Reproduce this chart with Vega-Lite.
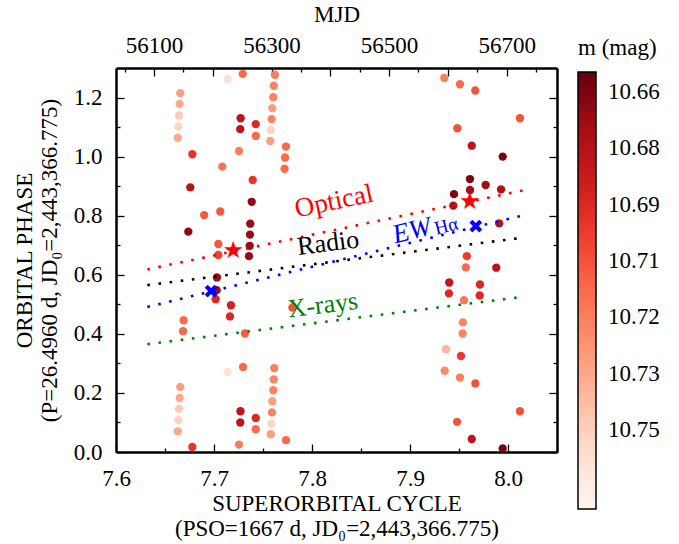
{
  "$schema": "https://vega.github.io/schema/vega-lite/v6.json",
  "width": 441,
  "height": 384,
  "autosize": {"type": "none"},
  "padding": {"left": 116, "top": 68, "right": 122, "bottom": 92},
  "background": "white",
  "config": {
    "font": "Liberation Serif",
    "view": {"stroke": null},
    "axis": {
      "labelFont": "Liberation Serif",
      "titleFont": "Liberation Serif",
      "labelFontSize": 23,
      "titleFontSize": 23,
      "titleFontWeight": "normal",
      "labelColor": "black",
      "titleColor": "black",
      "domainColor": "black",
      "domainWidth": 2.5,
      "tickColor": "black",
      "tickWidth": 1.3,
      "grid": false,
      "labelFlush": false,
      "labelOverlap": false
    }
  },
  "datasets": {
    "pts": [
      {"cycle": 7.6656, "phase": 1.215, "mag": 10.732},
      {"cycle": 7.665, "phase": 1.178, "mag": 10.735},
      {"cycle": 7.6643, "phase": 1.139, "mag": 10.748},
      {"cycle": 7.6636, "phase": 1.102, "mag": 10.752},
      {"cycle": 7.663, "phase": 1.064, "mag": 10.735},
      {"cycle": 7.6656, "phase": 0.22, "mag": 10.732},
      {"cycle": 7.665, "phase": 0.183, "mag": 10.735},
      {"cycle": 7.6643, "phase": 0.146, "mag": 10.748},
      {"cycle": 7.6636, "phase": 0.108, "mag": 10.752},
      {"cycle": 7.663, "phase": 0.07, "mag": 10.735},
      {"cycle": 7.669, "phase": 0.446, "mag": 10.713},
      {"cycle": 7.6684, "phase": 0.409, "mag": 10.713},
      {"cycle": 7.6779, "phase": 1.008, "mag": 10.695},
      {"cycle": 7.6779, "phase": 0.017, "mag": 10.695},
      {"cycle": 7.6758, "phase": 0.896, "mag": 10.675},
      {"cycle": 7.6738, "phase": 0.746, "mag": 10.665},
      {"cycle": 7.69, "phase": 0.802, "mag": 10.707},
      {"cycle": 7.7064, "phase": 0.814, "mag": 10.707},
      {"cycle": 7.7044, "phase": 0.704, "mag": 10.707},
      {"cycle": 7.7044, "phase": 0.667, "mag": 10.7},
      {"cycle": 7.703, "phase": 0.591, "mag": 10.668},
      {"cycle": 7.7027, "phase": 0.548, "mag": 10.668},
      {"cycle": 7.7017, "phase": 0.517, "mag": 10.69},
      {"cycle": 7.7085, "phase": 0.966, "mag": 10.715},
      {"cycle": 7.714, "phase": 1.263, "mag": 10.757},
      {"cycle": 7.714, "phase": 0.271, "mag": 10.757},
      {"cycle": 7.7173, "phase": 0.497, "mag": 10.687},
      {"cycle": 7.7163, "phase": 0.459, "mag": 10.69},
      {"cycle": 7.7255, "phase": 1.019, "mag": 10.72},
      {"cycle": 7.7255, "phase": 0.025, "mag": 10.72},
      {"cycle": 7.7272, "phase": 1.13, "mag": 10.678},
      {"cycle": 7.7268, "phase": 1.093, "mag": 10.678},
      {"cycle": 7.727, "phase": 0.138, "mag": 10.678},
      {"cycle": 7.7268, "phase": 0.1, "mag": 10.678},
      {"cycle": 7.7293, "phase": 1.28, "mag": 10.713},
      {"cycle": 7.7296, "phase": 0.288, "mag": 10.713},
      {"cycle": 7.7316, "phase": 0.401, "mag": 10.708},
      {"cycle": 7.7426, "phase": 1.11, "mag": 10.69},
      {"cycle": 7.7426, "phase": 1.07, "mag": 10.713},
      {"cycle": 7.7426, "phase": 0.115, "mag": 10.69},
      {"cycle": 7.7426, "phase": 0.077, "mag": 10.713},
      {"cycle": 7.7395, "phase": 0.921, "mag": 10.695},
      {"cycle": 7.7385, "phase": 0.847, "mag": 10.665},
      {"cycle": 7.737, "phase": 0.773, "mag": 10.667},
      {"cycle": 7.7367, "phase": 0.736, "mag": 10.667},
      {"cycle": 7.7364, "phase": 0.698, "mag": 10.667},
      {"cycle": 7.7357, "phase": 0.663, "mag": 10.667},
      {"cycle": 7.7622, "phase": 1.277, "mag": 10.72},
      {"cycle": 7.761, "phase": 1.24, "mag": 10.722},
      {"cycle": 7.7605, "phase": 1.201, "mag": 10.722},
      {"cycle": 7.7595, "phase": 1.164, "mag": 10.732},
      {"cycle": 7.7588, "phase": 1.127, "mag": 10.722},
      {"cycle": 7.758, "phase": 1.09, "mag": 10.752},
      {"cycle": 7.7575, "phase": 1.053, "mag": 10.732},
      {"cycle": 7.7615, "phase": 0.284, "mag": 10.72},
      {"cycle": 7.761, "phase": 0.246, "mag": 10.722},
      {"cycle": 7.7605, "phase": 0.209, "mag": 10.722},
      {"cycle": 7.7595, "phase": 0.172, "mag": 10.732},
      {"cycle": 7.7592, "phase": 0.134, "mag": 10.722},
      {"cycle": 7.7585, "phase": 0.096, "mag": 10.752},
      {"cycle": 7.758, "phase": 0.06, "mag": 10.732},
      {"cycle": 7.7735, "phase": 1.034, "mag": 10.713},
      {"cycle": 7.7725, "phase": 0.997, "mag": 10.713},
      {"cycle": 7.772, "phase": 0.959, "mag": 10.713},
      {"cycle": 7.7735, "phase": 0.04, "mag": 10.713},
      {"cycle": 7.78, "phase": 0.489, "mag": 10.705},
      {"cycle": 7.935, "phase": 1.266, "mag": 10.72},
      {"cycle": 7.951, "phase": 1.245, "mag": 10.713},
      {"cycle": 7.9666, "phase": 1.224, "mag": 10.705},
      {"cycle": 8.0122, "phase": 1.13, "mag": 10.705},
      {"cycle": 7.9483, "phase": 1.096, "mag": 10.705},
      {"cycle": 7.963, "phase": 1.037, "mag": 10.678},
      {"cycle": 7.9946, "phase": 1.0, "mag": 10.66},
      {"cycle": 7.9612, "phase": 0.924, "mag": 10.66},
      {"cycle": 7.9612, "phase": 0.887, "mag": 10.668},
      {"cycle": 7.9449, "phase": 0.873, "mag": 10.66},
      {"cycle": 7.9442, "phase": 0.834, "mag": 10.672},
      {"cycle": 7.9772, "phase": 0.904, "mag": 10.668},
      {"cycle": 7.9929, "phase": 0.889, "mag": 10.672},
      {"cycle": 7.991, "phase": 0.774, "mag": 10.675},
      {"cycle": 7.958, "phase": 0.663, "mag": 10.698},
      {"cycle": 7.957, "phase": 0.625, "mag": 10.713},
      {"cycle": 7.988, "phase": 0.624, "mag": 10.678},
      {"cycle": 7.94, "phase": 0.574, "mag": 10.68},
      {"cycle": 7.9397, "phase": 0.537, "mag": 10.69},
      {"cycle": 7.9714, "phase": 0.567, "mag": 10.69},
      {"cycle": 7.9711, "phase": 0.53, "mag": 10.69},
      {"cycle": 7.9551, "phase": 0.514, "mag": 10.718},
      {"cycle": 7.954, "phase": 0.439, "mag": 10.722},
      {"cycle": 7.9537, "phase": 0.401, "mag": 10.722},
      {"cycle": 7.9367, "phase": 0.348, "mag": 10.74},
      {"cycle": 7.952, "phase": 0.325, "mag": 10.698},
      {"cycle": 7.9354, "phase": 0.275, "mag": 10.724},
      {"cycle": 7.951, "phase": 0.252, "mag": 10.72},
      {"cycle": 7.9667, "phase": 0.232, "mag": 10.705},
      {"cycle": 8.0122, "phase": 0.138, "mag": 10.705},
      {"cycle": 7.948, "phase": 0.102, "mag": 10.705},
      {"cycle": 7.963, "phase": 0.044, "mag": 10.678},
      {"cycle": 7.9946, "phase": 0.012, "mag": 10.66}
    ],
    "mdl": [
      {"model": "Optical", "cycle": 7.632, "phase": 0.618},
      {"model": "Optical", "cycle": 8.016, "phase": 0.886},
      {"model": "Radio", "cycle": 7.632, "phase": 0.565},
      {"model": "Radio", "cycle": 8.012, "phase": 0.724},
      {"model": "EW", "cycle": 7.632, "phase": 0.491},
      {"model": "EW", "cycle": 8.014, "phase": 0.8},
      {"model": "Xrays", "cycle": 7.632, "phase": 0.365},
      {"model": "Xrays", "cycle": 8.012, "phase": 0.524}
    ],
    "lbl": [
      {"label": "Optical", "cycle": 7.8225, "phase": 0.848},
      {"label": "Radio", "cycle": 7.8164, "phase": 0.707},
      {"label": "X-rays", "cycle": 7.811, "phase": 0.497},
      {"label": "EW", "cycle": 7.902, "phase": 0.748},
      {"label": "Hα", "cycle": 7.937, "phase": 0.765}
    ],
    "mrk": [
      {"kind": "star", "cycle": 7.7197, "phase": 0.68},
      {"kind": "star", "cycle": 7.961, "phase": 0.847},
      {"kind": "cross", "cycle": 7.697, "phase": 0.542},
      {"kind": "cross", "cycle": 7.967, "phase": 0.763}
    ],
    "ref": [
      {"cycle": 7.8, "phase": 0.65}
    ]
  },
  "layer": [
    {
      "data": {"name": "pts"},
      "mark": {"type": "circle", "size": 70, "opacity": 1},
      "encoding": {
        "x": {
          "field": "cycle",
          "type": "quantitative",
          "scale": {"domain": [7.6, 8.05], "nice": false, "zero": false},
          "axis": {
            "orient": "bottom",
            "values": [7.6, 7.65, 7.7, 7.75, 7.8, 7.85, 7.9, 7.95, 8.0, 8.05],
            "labelExpr": "abs(datum.value*10 - round(datum.value*10)) < 0.001 ? format(datum.value, '.1f') : ''",
            "tickSize": {"condition": {"test": "abs(datum.value*10 - round(datum.value*10)) < 0.001", "value": -8}, "value": -4},
            "labelPadding": 23,
            "title": ["SUPERORBITAL CYCLE", "(PSO=1667 d, JD₀=2,443,366.775)"],
            "titlePadding": -2
          }
        },
        "y": {
          "field": "phase",
          "type": "quantitative",
          "scale": {"domain": [0, 1.3], "nice": false, "zero": false},
          "axis": {
            "orient": "left",
            "values": [0, 0.1, 0.2, 0.3, 0.4, 0.5, 0.6, 0.7, 0.8, 0.9, 1.0, 1.1, 1.2],
            "labelExpr": "abs(datum.value*5 - round(datum.value*5)) < 0.001 ? format(datum.value, '.1f') : ''",
            "tickSize": {"condition": {"test": "abs(datum.value*5 - round(datum.value*5)) < 0.001", "value": -8}, "value": -4},
            "labelPadding": 22,
            "title": ["ORBITAL PHASE", "(P=26.4960 d, JD₀=2,443,366.775)"],
            "titlePadding": 12
          }
        },
        "color": {
          "field": "mag",
          "type": "quantitative",
          "scale": {
            "domain": [10.771, 10.7564625, 10.741925, 10.7273875, 10.71285, 10.6983125, 10.683775, 10.6692375, 10.6547],
            "range": ["#fff5f0", "#fee0d2", "#fcbba1", "#fc9272", "#fb6a4a", "#ef3b2c", "#cb181d", "#a50f15", "#67000d"],
            "nice": false,
            "zero": false
          },
          "legend": {
            "orient": "none",
            "legendX": 462,
            "legendY": -31,
            "direction": "vertical",
            "gradientLength": 437,
            "gradientThickness": 18,
            "gradientStrokeColor": "black",
            "gradientStrokeWidth": 1.5,
            "values": [10.66, 10.675, 10.69, 10.705, 10.72, 10.735, 10.75],
            "labelExpr": "datum.value < 10.67 ? '10.66' : datum.value < 10.68 ? '10.68' : datum.value < 10.695 ? '10.69' : datum.value < 10.71 ? '10.71' : datum.value < 10.725 ? '10.72' : datum.value < 10.74 ? '10.73' : '10.75'",
            "labelFontSize": 23,
            "labelFont": "Liberation Serif",
            "labelColor": "black",
            "labelOffset": 12,
            "labelOverlap": false,
            "title": "\u00a0\u00a0\u00a0m (mag)",
            "titleFontSize": 23,
            "titleFont": "Liberation Serif",
            "titleFontWeight": "normal",
            "titleColor": "black",
            "titlePadding": 12,
            "titleAnchor": "start",
            "padding": 0
          }
        }
      }
    },
    {
      "data": {"name": "mdl"},
      "transform": [{"filter": "datum.model == 'Optical'"}],
      "mark": {"type": "line", "color": "#ff0000", "strokeWidth": 2.6, "strokeDash": [2.6, 8.6]},
      "encoding": {
        "x": {"field": "cycle", "type": "quantitative", "axis": null},
        "y": {"field": "phase", "type": "quantitative", "axis": null}
      }
    },
    {
      "data": {"name": "mdl"},
      "transform": [{"filter": "datum.model == 'Radio'"}],
      "mark": {"type": "line", "color": "#000000", "strokeWidth": 2.6, "strokeDash": [2.6, 8.6]},
      "encoding": {
        "x": {"field": "cycle", "type": "quantitative", "axis": null},
        "y": {"field": "phase", "type": "quantitative", "axis": null}
      }
    },
    {
      "data": {"name": "mdl"},
      "transform": [{"filter": "datum.model == 'EW'"}],
      "mark": {"type": "line", "color": "#0000ff", "strokeWidth": 2.6, "strokeDash": [2.6, 8.6]},
      "encoding": {
        "x": {"field": "cycle", "type": "quantitative", "axis": null},
        "y": {"field": "phase", "type": "quantitative", "axis": null}
      }
    },
    {
      "data": {"name": "mdl"},
      "transform": [{"filter": "datum.model == 'Xrays'"}],
      "mark": {"type": "line", "color": "#008000", "strokeWidth": 2.6, "strokeDash": [2.6, 8.6]},
      "encoding": {
        "x": {"field": "cycle", "type": "quantitative", "axis": null},
        "y": {"field": "phase", "type": "quantitative", "axis": null}
      }
    },
    {
      "data": {"name": "mrk"},
      "transform": [{"filter": "datum.kind == 'star'"}],
      "mark": {"type": "text", "font": "DejaVu Sans", "fontSize": 24, "color": "#ff0000", "align": "center", "baseline": "middle", "text": "★"},
      "encoding": {
        "x": {"field": "cycle", "type": "quantitative", "axis": null},
        "y": {"field": "phase", "type": "quantitative", "axis": null}
      }
    },
    {
      "data": {"name": "mrk"},
      "transform": [{"filter": "datum.kind == 'cross'"}],
      "mark": {"type": "text", "font": "DejaVu Sans", "fontSize": 19, "color": "#0000ff", "align": "center", "baseline": "middle", "text": "✖"},
      "encoding": {
        "x": {"field": "cycle", "type": "quantitative", "axis": null},
        "y": {"field": "phase", "type": "quantitative", "axis": null}
      }
    },
    {
      "data": {"name": "lbl"},
      "transform": [{"filter": "datum.label == 'Optical'"}],
      "mark": {"type": "text", "font": "Liberation Serif", "fontSize": 27, "color": "#ff0000", "angle": -12, "align": "center", "baseline": "middle"},
      "encoding": {
        "x": {"field": "cycle", "type": "quantitative", "axis": null},
        "y": {"field": "phase", "type": "quantitative", "axis": null},
        "text": {"field": "label"}
      }
    },
    {
      "data": {"name": "lbl"},
      "transform": [{"filter": "datum.label == 'Radio'"}],
      "mark": {"type": "text", "font": "Liberation Serif", "fontSize": 26, "color": "#000000", "angle": -7, "align": "center", "baseline": "middle"},
      "encoding": {
        "x": {"field": "cycle", "type": "quantitative", "axis": null},
        "y": {"field": "phase", "type": "quantitative", "axis": null},
        "text": {"field": "label"}
      }
    },
    {
      "data": {"name": "lbl"},
      "transform": [{"filter": "datum.label == 'X-rays'"}],
      "mark": {"type": "text", "font": "Liberation Serif", "fontSize": 26, "color": "#008000", "angle": -7, "align": "center", "baseline": "middle"},
      "encoding": {
        "x": {"field": "cycle", "type": "quantitative", "axis": null},
        "y": {"field": "phase", "type": "quantitative", "axis": null},
        "text": {"field": "label"}
      }
    },
    {
      "data": {"name": "lbl"},
      "transform": [{"filter": "datum.label == 'EW'"}],
      "mark": {"type": "text", "font": "Liberation Serif", "fontSize": 27, "fontStyle": "italic", "color": "#0000ff", "angle": -14, "align": "center", "baseline": "middle"},
      "encoding": {
        "x": {"field": "cycle", "type": "quantitative", "axis": null},
        "y": {"field": "phase", "type": "quantitative", "axis": null},
        "text": {"field": "label"}
      }
    },
    {
      "data": {"name": "lbl"},
      "transform": [{"filter": "datum.label == 'Hα'"}],
      "mark": {"type": "text", "font": "Liberation Serif", "fontSize": 19, "color": "#0000ff", "angle": -14, "align": "center", "baseline": "middle"},
      "encoding": {
        "x": {"field": "cycle", "type": "quantitative", "axis": null},
        "y": {"field": "phase", "type": "quantitative", "axis": null},
        "text": {"field": "label"}
      }
    },
    {
      "data": {"name": "ref"},
      "mark": {"type": "circle", "opacity": 0},
      "encoding": {
        "x": {
          "field": "cycle",
          "type": "quantitative",
          "axis": {
            "orient": "top",
            "values": [7.608713, 7.638707, 7.668701, 7.698695, 7.728689, 7.758683, 7.788677, 7.818671, 7.848665, 7.878659, 7.908653, 7.938647, 7.968641, 7.998635, 8.028629],
            "labelExpr": "round((datum.value-7.6)*1667+56035.475) % 200 == 100 ? format(round((datum.value-7.6)*1667+56035.475), 'd') : ''",
            "tickSize": {"condition": {"test": "round((datum.value-7.6)*1667+56035.475) % 100 == 0", "value": -8}, "value": -4},
            "labelPadding": 19,
            "title": "MJD",
            "titlePadding": 4
          }
        },
        "y": {
          "field": "phase",
          "type": "quantitative",
          "axis": {
            "orient": "right",
            "values": [0, 0.1, 0.2, 0.3, 0.4, 0.5, 0.6, 0.7, 0.8, 0.9, 1.0, 1.1, 1.2],
            "tickSize": {"condition": {"test": "abs(datum.value*5 - round(datum.value*5)) < 0.001", "value": -8}, "value": -4},
            "labels": false,
            "title": null
          }
        }
      }
    }
  ],
  "resolve": {"axis": {"x": "independent", "y": "independent"}}
}
